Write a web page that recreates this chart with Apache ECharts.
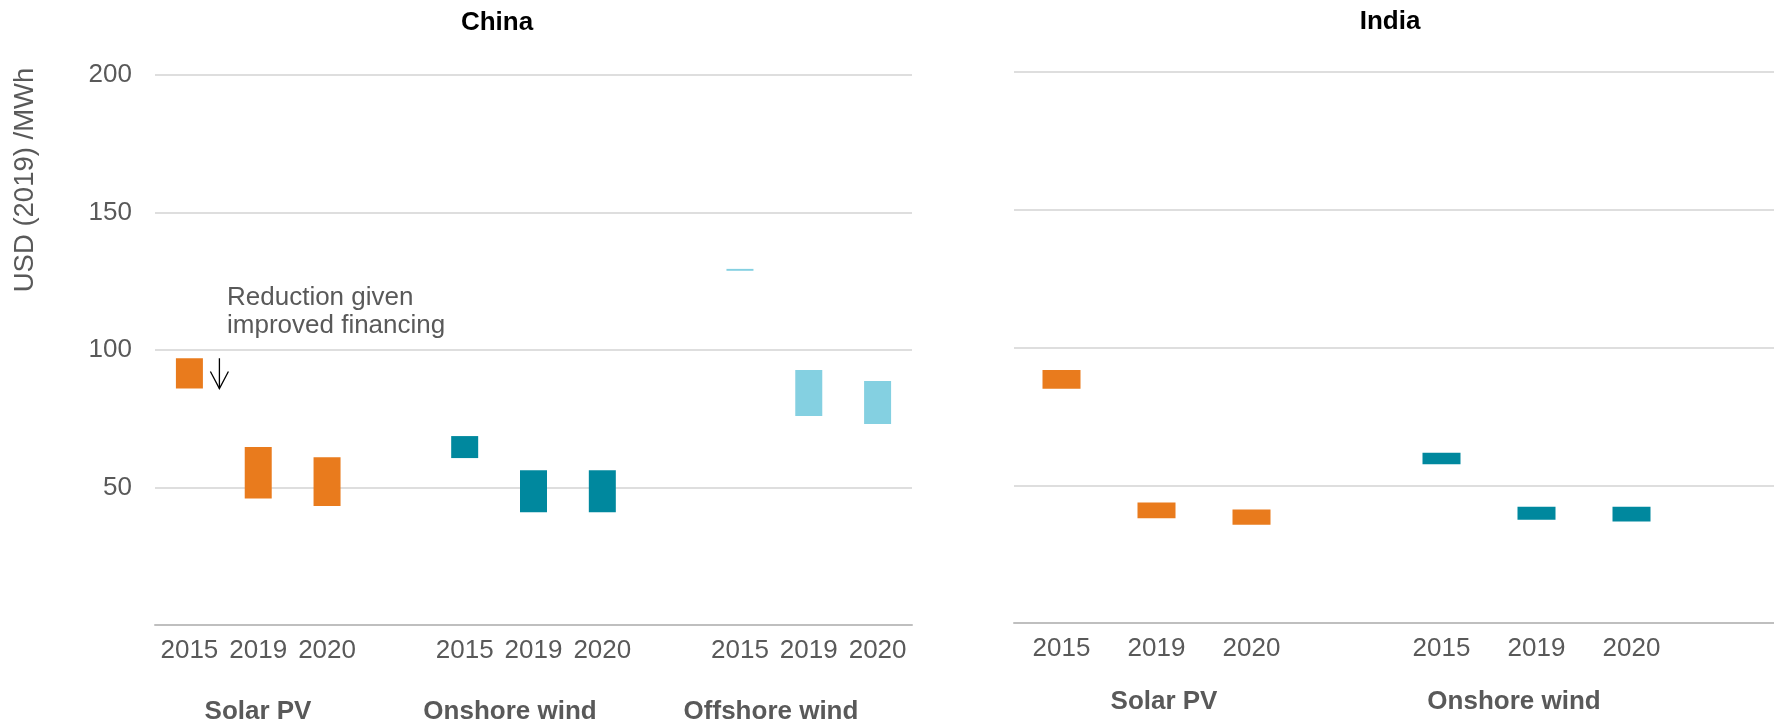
<!DOCTYPE html>
<html>
<head>
<meta charset="utf-8">
<script src="https://cdn.jsdelivr.net/npm/echarts@6/dist/echarts.min.js"></script>
<style>
  html, body { margin: 0; padding: 0; background: #ffffff; }
  #chart { width: 1774px; height: 722px; }
</style>
</head>
<body>
<div id="chart"></div>
<script>
// Levelised cost ranges, USD (2019) / MWh
const chinaCategories = ['2015', '2019', '2020', '', '2015', '2019', '2020', '', '2015', '2019', '2020'];
const chinaTech = ['solar', 'solar', 'solar', '', 'onshore', 'onshore', 'onshore', '', 'offshore', 'offshore', 'offshore'];
const chinaLow = [86, 46, 43.3, null, 60.7, 41, 41, null, 128.8, 76, 73.1];
const chinaHigh = [97, 64.7, 61, null, 68.7, 56.3, 56.3, null, 129.5, 92.7, 88.7];

const indiaCategories = ['2015', '2019', '2020', '', '2015', '2019', '2020', ''];
const indiaTech = ['solar', 'solar', 'solar', '', 'onshore', 'onshore', 'onshore', ''];
const indiaLow = [85, 38, 35.7, null, 57.6, 37.5, 36.8, null];
const indiaHigh = [91.8, 43.7, 41.2, null, 61.8, 42.2, 42.2, null];

const techNames = { solar: 'Solar PV', onshore: 'Onshore wind', offshore: 'Offshore wind' };
const panelTitles = ['China', 'India'];
const yMin = 0, yMax = 200, yStep = 50;
const yAxisTitle = 'USD (2019) /MWh';
const noteText = 'Reduction given\nimproved financing';

const techColors = { solar: '#E97B1D', onshore: '#00889E', offshore: '#84D0E1' };
const FONT = '"Liberation Sans", Arial, sans-serif';
const GREY = '#595959';

const chart = echarts.init(document.getElementById('chart'), null, { renderer: 'canvas' });

function baseData(low) {
  return low.map(v => (v == null ? '-' : v));
}
function spanData(low, high, tech) {
  return low.map((v, i) => v == null ? '-' : {
    value: +(high[i] - v).toFixed(2),
    itemStyle: { color: techColors[tech[i]] }
  });
}

function xAxisFor(idx, cats) {
  return {
    type: 'category', gridIndex: idx, data: cats,
    axisTick: { show: false },
    axisLine: { lineStyle: { color: '#BFBFBF', width: 2 } },
    axisLabel: { color: GREY, fontSize: 26, fontFamily: FONT, margin: 13, interval: 0 }
  };
}
function yAxisFor(idx, showLabels) {
  return {
    type: 'value', gridIndex: idx, min: yMin, max: yMax, interval: yStep,
    axisLine: { show: false }, axisTick: { show: false },
    splitLine: { lineStyle: { color: '#DEDEDE', width: 2 } },
    axisLabel: {
      show: showLabels, color: GREY, fontSize: 26, fontFamily: FONT, margin: 23,
      formatter: v => (v === yMin ? '' : String(v))
    }
  };
}

const option = {
  animation: false,
  backgroundColor: '#ffffff',
  grid: [
    { left: 155, right: 862, top: 75, height: 550 },
    { left: 1014, right: -5, top: 72, height: 551 }
  ],
  xAxis: [xAxisFor(0, chinaCategories), xAxisFor(1, indiaCategories)],
  yAxis: [yAxisFor(0, true), yAxisFor(1, false)],
  series: [
    { type: 'bar', xAxisIndex: 0, yAxisIndex: 0, stack: 'cn', barWidth: 27, silent: true,
      itemStyle: { color: 'transparent' }, data: baseData(chinaLow) },
    { type: 'bar', xAxisIndex: 0, yAxisIndex: 0, stack: 'cn', barWidth: 27,
      data: spanData(chinaLow, chinaHigh, chinaTech) },
    { type: 'bar', xAxisIndex: 1, yAxisIndex: 1, stack: 'in', barWidth: 38, silent: true,
      itemStyle: { color: 'transparent' }, data: baseData(indiaLow) },
    { type: 'bar', xAxisIndex: 1, yAxisIndex: 1, stack: 'in', barWidth: 38,
      data: spanData(indiaLow, indiaHigh, indiaTech) }
  ]
};
chart.setOption(option);

// Annotation arrow beside the first China solar bar, spanning its range
const pTop = chart.convertToPixel({ xAxisIndex: 0, yAxisIndex: 0 }, [0, chinaHigh[0]]);
const pBot = chart.convertToPixel({ xAxisIndex: 0, yAxisIndex: 0 }, [0, chinaLow[0]]);
const ax = pTop[0] + 30;

function text(id, str, x, y, style, extra) {
  return Object.assign({
    type: 'text', id: id, x: x, y: y,
    style: Object.assign({ text: str, font: '26px ' + FONT, fill: GREY, align: 'center', verticalAlign: 'middle' }, style)
  }, extra || {});
}

chart.setOption({
  graphic: [
    text('t-cn', panelTitles[0], 497, 23, { font: 'bold 26px ' + FONT, fill: '#000000' }),
    text('t-in', panelTitles[1], 1390, 22, { font: 'bold 26px ' + FONT, fill: '#000000' }),
    text('ytitle', yAxisTitle, 25, 180, { font: '27.5px ' + FONT }, { rotation: Math.PI / 2 }),
    text('g-cn-1', techNames.solar, 258, 712, { font: 'bold 26px ' + FONT }),
    text('g-cn-2', techNames.onshore, 510, 712, { font: 'bold 26px ' + FONT }),
    text('g-cn-3', techNames.offshore, 771, 712, { font: 'bold 26px ' + FONT }),
    text('g-in-1', techNames.solar, 1164, 702, { font: 'bold 26px ' + FONT }),
    text('g-in-2', techNames.onshore, 1514, 702, { font: 'bold 26px ' + FONT }),
    text('note', noteText, 227, 284, { align: 'left', verticalAlign: 'top', lineHeight: 28 }),
    { type: 'line', id: 'arrow-shaft', shape: { x1: ax, y1: pTop[1], x2: ax, y2: pBot[1] },
      style: { stroke: '#000000', lineWidth: 1.3 } },
    { type: 'polyline', id: 'arrow-head',
      shape: { points: [[ax - 9, pBot[1] - 17], [ax, pBot[1]], [ax + 9, pBot[1] - 17]] },
      style: { stroke: '#000000', lineWidth: 1.3, fill: null } }
  ]
});
</script>
</body>
</html>
